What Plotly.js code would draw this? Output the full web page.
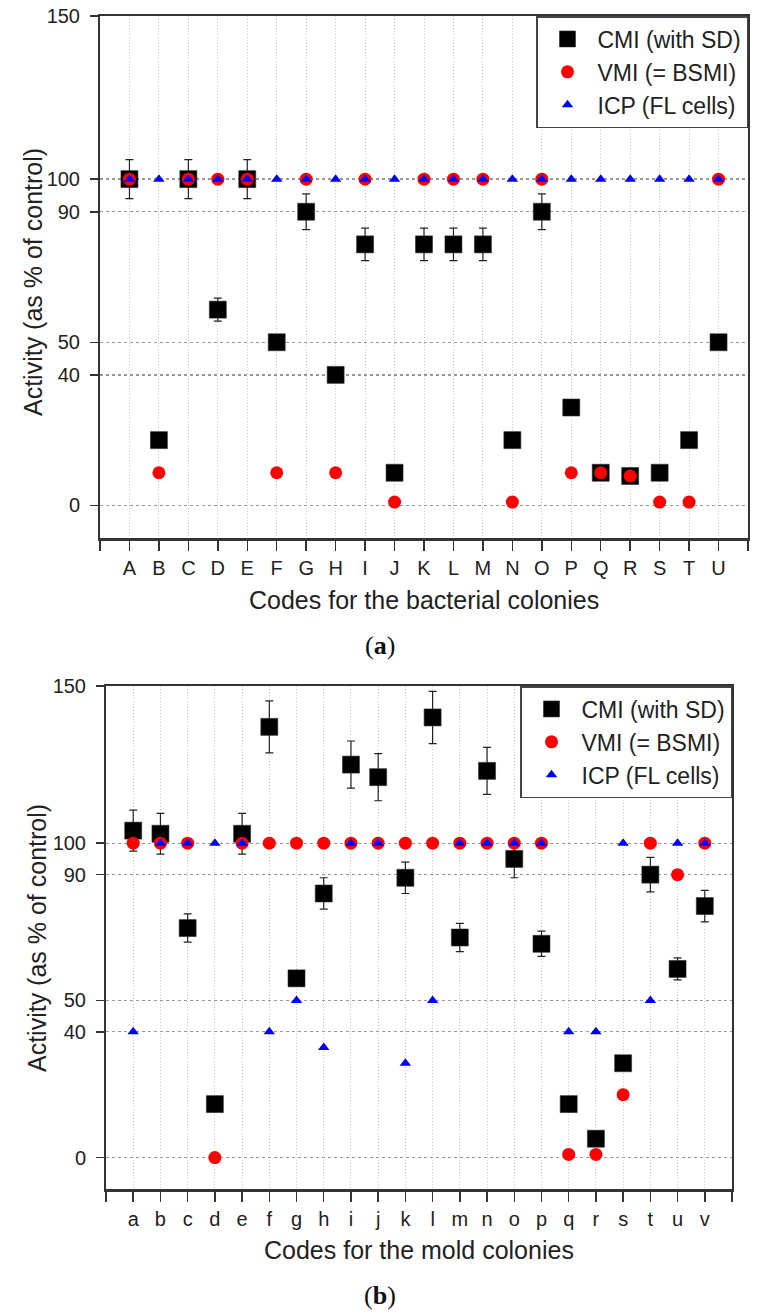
<!DOCTYPE html>
<html>
<head>
<meta charset="utf-8">
<script src="https://cdn.plot.ly/plotly-3.0.1.min.js"></script>
<style>
  html, body { margin: 0; padding: 0; background: #fff; }
  #chart { width: 760px; height: 1315px; }
</style>
</head>
<body>
<div id="chart"></div>
<script>
// ---------- Panel (a): bacterial colonies ----------
const catsA = ['A','B','C','D','E','F','G','H','I','J','K','L','M','N','O','P','Q','R','S','T','U'];
const cmiA   = [100, 20, 100, 60, 100, 50, 90, 40, 80, 10, 80, 80, 80, 20, 90, 30, 10, 9, 10, 20, 50];
const cmiSdA = [6, 0, 6, 3.5, 6, 1.5, 5.5, 0, 5, 0, 5, 5, 5, 0, 5.5, 0, 0, 0, 0, 0, 1.5];
const vmiA   = [100, 10, 100, 100, 100, 10, 100, 10, 100, 1, 100, 100, 100, 1, 100, 10, 10, 9, 1, 1, 100];
const icpA   = [100, 100, 100, 100, 100, 100, 100, 100, 100, 100, 100, 100, 100, 100, 100, 100, 100, 100, 100, 100, 100];

// ---------- Panel (b): mold colonies ----------
const catsB = ['a','b','c','d','e','f','g','h','i','j','k','l','m','n','o','p','q','r','s','t','u','v'];
const cmiB   = [104, 103, 73, 17, 103, 137, 57, 84, 125, 121, 89, 140, 70, 123, 95, 68, 17, 6, 30, 90, 60, 80];
const cmiSdB = [6.5, 6.5, 4.5, 0, 6.5, 8.3, 2, 5, 7.5, 7.5, 5, 8.3, 4.5, 7.5, 6, 4, 0, 0, 0, 5.5, 3.5, 5];
const vmiB   = [100, 100, 100, 0, 100, 100, 100, 100, 100, 100, 100, 100, 100, 100, 100, 100, 1, 1, 20, 100, 90, 100];
const icpB   = [40, 100, 100, 100, 100, 40, 50, 35, 100, 100, 30, 50, 100, 100, 100, 100, 40, 40, 100, 50, 100, 100];

const yTicks = [0, 40, 50, 90, 100, 150];
const seriesNames = ['CMI (with SD)', 'VMI (= BSMI)', 'ICP (FL cells)'];
const xTitleA = 'Codes for the bacterial colonies';
const xTitleB = 'Codes for the mold colonies';
const yTitle = 'Activity (as % of control)';

// ---------- build ----------
const W = 760, H = 1315;
const idx = arr => arr.map((_, i) => i);
const extTicks = arr => [-1].concat(idx(arr), [arr.length]);
const extText = arr => [''].concat(arr, ['']);

function panelTraces(cats, cmi, sd, vmi, icp, xa, ya, lg) {
  const x = idx(cats);
  return [
    { type: 'scatter', mode: 'markers', name: seriesNames[0], x: x, y: cmi, xaxis: xa, yaxis: ya, legend: lg,
      marker: { symbol: 'square', size: 17, color: '#000', line: { color: '#333', width: 0.6 } },
      error_y: { type: 'data', array: sd, visible: true, color: '#222', thickness: 1.2, width: 4 } },
    { type: 'scatter', mode: 'markers', name: seriesNames[1], x: x, y: vmi, xaxis: xa, yaxis: ya, legend: lg,
      marker: { symbol: 'circle', size: 13, color: '#ff0000', line: { width: 0 } } },
    { type: 'scatter', mode: 'markers', name: seriesNames[2], x: x, y: icp, xaxis: xa, yaxis: ya, legend: lg,
      marker: { symbol: 'triangle-up', size: 10, color: '#0000ff', line: { width: 0 } } }
  ];
}

const data = panelTraces(catsA, cmiA, cmiSdA, vmiA, icpA, 'x', 'y', 'legend')
  .concat(panelTraces(catsB, cmiB, cmiSdB, vmiB, icpB, 'x2', 'y2', 'legend2'));

const baseFont = 'Liberation Sans, Arial, Helvetica, sans-serif';
function xAxis(cats, domain, anchor) {
  return {
    domain: domain, anchor: anchor, range: [-1, cats.length],
    tickmode: 'array', tickvals: extTicks(cats), ticktext: extText(cats),
    ticks: 'outside', ticklen: 10, tickwidth: 1.5, tickcolor: '#333',
    tickfont: { size: 20, color: '#222', family: baseFont },
    showline: true, linewidth: 2.5, linecolor: '#333', mirror: true,
    showgrid: true, gridcolor: '#c8c8c8', griddash: '1px,2px', gridwidth: 1,
    zeroline: false, fixedrange: true
  };
}
function yAxis(domain, anchor) {
  return {
    domain: domain, anchor: anchor, range: [-10, 150],
    tickmode: 'array', tickvals: yTicks,
    ticks: 'outside', ticklen: 8, tickwidth: 1.5, tickcolor: '#333',
    tickfont: { size: 20, color: '#222', family: baseFont },
    ticklabelstandoff: 6,
    showline: true, linewidth: 2, linecolor: '#333', mirror: true,
    showgrid: true, gridcolor: '#999', griddash: '3px,3px', gridwidth: 1.3,
    zeroline: false, fixedrange: true
  };
}
function legendBox(xRightPx, yTopPx) {
  return {
    x: xRightPx / W, xanchor: 'right', y: 1 - yTopPx / H, yanchor: 'top',
    bgcolor: '#fff', bordercolor: '#444', borderwidth: 1.5,
    font: { size: 23, color: '#222', family: baseFont },
    itemwidth: 50, tracegroupgap: 0
  };
}
function ann(text, xPx, yPx, size, opts) {
  return Object.assign({
    text: text, x: xPx / W, y: 1 - yPx / H, xref: 'paper', yref: 'paper',
    showarrow: false, xanchor: 'center', yanchor: 'middle',
    font: { size: size, color: '#222', family: baseFont }
  }, opts || {});
}
const serif = 'Liberation Serif, Times New Roman, serif';

const layout = {
  width: W, height: H,
  margin: { l: 0, r: 0, t: 0, b: 0 },
  paper_bgcolor: '#fff', plot_bgcolor: '#fff',
  font: { family: baseFont, color: '#222' },
  showlegend: true,
  xaxis: xAxis(catsA, [100 / W, 748 / W], 'y'),
  yaxis: yAxis([1 - 538 / H, 1 - 16 / H], 'x'),
  xaxis2: xAxis(catsB, [106 / W, 732 / W], 'y2'),
  yaxis2: yAxis([1 - 1189 / H, 1 - 686 / H], 'x2'),
  legend: legendBox(748, 16),
  legend2: legendBox(732, 686),
  annotations: [
    ann(yTitle, 33, 282, 25, { textangle: -90 }),
    ann(xTitleA, 424, 600, 25),
    ann('(<b>a</b>)', 380, 645, 26, { font: { size: 26, color: '#111', family: serif } }),
    ann(yTitle, 37, 938, 25, { textangle: -90 }),
    ann(xTitleB, 419, 1250, 25),
    ann('(<b>b</b>)', 380, 1295, 26, { font: { size: 26, color: '#111', family: serif } })
  ]
};

Plotly.newPlot('chart', data, layout, { staticPlot: true, displayModeBar: false });
</script>
</body>
</html>
